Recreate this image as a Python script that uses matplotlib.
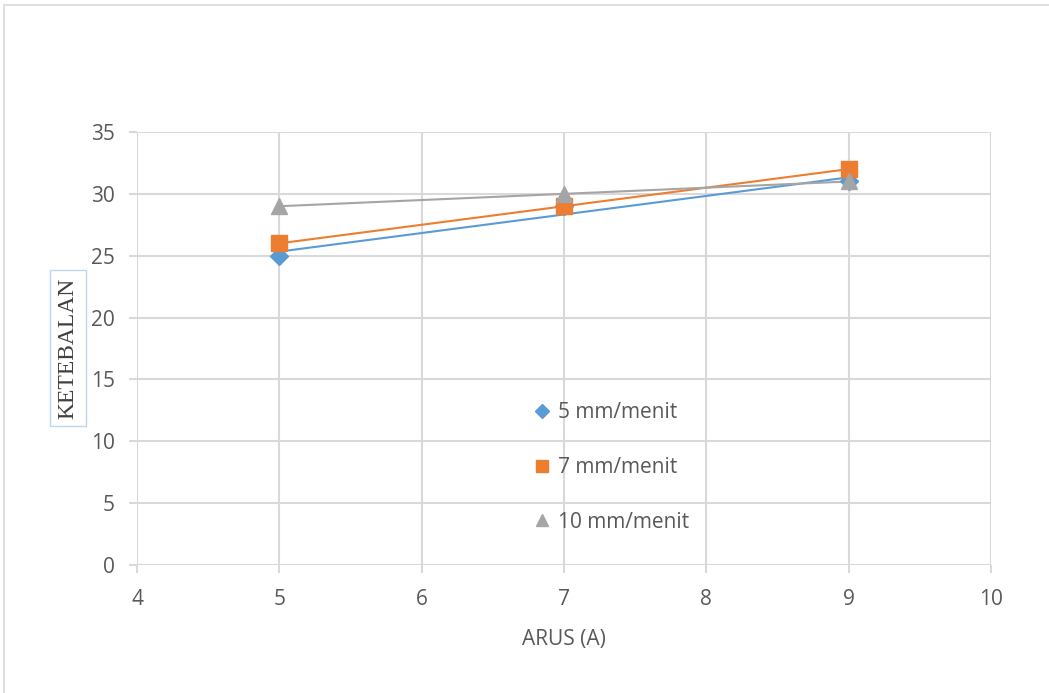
import numpy as np
import matplotlib.pyplot as plt
from matplotlib.lines import Line2D
from matplotlib.patches import Rectangle

# arus (A) vs ketebalan for three feed speeds
arus = [5, 7, 9]
tebal_5 = [25, 29, 31]
tebal_7 = [26, 29, 32]
tebal_10 = [29, 30, 31]
labels = ["5 mm/menit", "7 mm/menit", "10 mm/menit"]

colors = ["#5B9BD5", "#ED7D31", "#A5A5A5"]
markers = ["D", "s", "^"]
msizes = [9, 11, 11.5]

plt.rcParams["font.family"] = ["Open Sans", "DejaVu Sans"]
grid_c = "#d9d9d9"
text_c = "#595959"

fig = plt.figure(figsize=(10.49, 6.93), dpi=100)
# outer frame, only top and left edges fall inside the image
fig.patches.append(Rectangle((4 / 1049, -0.1), 1.2, 1.1 - 5 / 693, transform=fig.transFigure,
                             fill=False, edgecolor=grid_c, linewidth=1.2))

ax = fig.add_axes([137 / 1049, 128 / 693, 854 / 1049, 433 / 693])

handles = []
for ys, c, m, ms, lab in zip([tebal_5, tebal_7, tebal_10], colors, markers, msizes, labels):
    # linear trendline through each series
    k, b = np.polyfit(arus, ys, 1)
    xs = np.array([arus[0], arus[-1]])
    ax.plot(xs, k * xs + b, color=c, lw=1.5, zorder=2)
    ax.plot(arus, ys, linestyle="none", marker=m, color=c, markersize=ms, zorder=3)
    handles.append(Line2D([], [], linestyle="none", marker=m, color=c, markersize=ms * 0.8, label=lab))

ax.set_xlim(4, 10)
ax.set_ylim(0, 35)
ax.set_xticks(range(4, 11))
ax.set_yticks(range(0, 36, 5))
ax.grid(True, color=grid_c, lw=1.5)
ax.set_axisbelow(True)
for s in ax.spines.values():
    s.set_visible(False)
ax.tick_params(length=6, width=1.5, color=grid_c, labelsize=15, labelcolor=text_c)
ax.tick_params(axis="y", pad=10)
ax.tick_params(axis="x", pad=11)

ax.set_xlabel("ARUS (A)", fontsize=15, color=text_c, labelpad=14)

fig.text(68 / 1049, 1 - 348 / 693, "KETEBALAN", rotation=90, ha="center", va="center",
         family="Liberation Serif", fontsize=17, color="#404040",
         bbox=dict(boxstyle="square,pad=0.3", fc="white", ec="#bdd7ee", lw=1))

leg = ax.legend(handles=handles, loc="upper left", bbox_to_anchor=(0.455, 0.40),
                frameon=False, fontsize=15, labelspacing=1.62, handlelength=0.6,
                handletextpad=0.45, borderpad=0)
for t in leg.get_texts():
    t.set_color(text_c)

fig.savefig("out.png", dpi=100)
